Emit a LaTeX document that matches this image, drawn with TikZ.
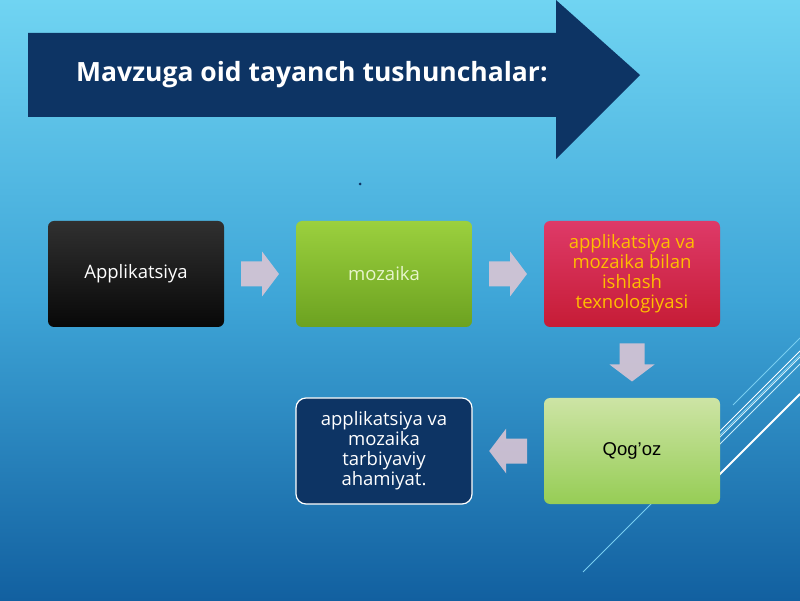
\documentclass[tikz,border=0pt]{standalone}
\usepackage{fontspec}
\setmainfont{Open Sans}
\newfontfamily\arialfont{Liberation Sans}
\usetikzlibrary{calc}

\definecolor{bgtop}{RGB}{112,212,242}
\definecolor{bgmid}{RGB}{62,165,215}
\definecolor{bgbottom}{RGB}{18,96,160}
\definecolor{navy}{RGB}{13,52,100}
\definecolor{blacktop}{RGB}{48,48,48}
\definecolor{blackbottom}{RGB}{8,8,8}
\definecolor{greentop}{RGB}{155,208,62}
\definecolor{greenbottom}{RGB}{108,162,32}
\definecolor{mozaikatext}{RGB}{232,245,205}
\definecolor{redtop}{RGB}{222,58,104}
\definecolor{redbottom}{RGB}{198,28,54}
\definecolor{orangetext}{RGB}{255,190,0}
\definecolor{papertop}{RGB}{205,228,165}
\definecolor{paperbottom}{RGB}{150,205,85}
\definecolor{arrowgrey}{RGB}{222,198,212}
\definecolor{lineblue}{RGB}{120,205,240}

\begin{document}
\begin{tikzpicture}[x=1pt, y=1pt,
    box/.style={rounded corners=6pt, minimum width=176pt, minimum height=106pt, inner sep=0pt, align=center, font=\fontsize{18.5}{20}\selectfont},
    pics/flowarrow/.style={code={
        \fill[arrowgrey, opacity=0.88] (-19,-12.5) -- (2,-12.5) -- (2,-22.5) -- (19,0) -- (2,22.5) -- (2,12.5) -- (-19,12.5) -- cycle;
    }}]

    \useasboundingbox (0,0) rectangle (800,600);
    \shade[shading angle=-35, top color=bgtop, bottom color=bgbottom, middle color=bgmid] (0,0) rectangle (800,600);

    % decorative lines
    \draw[lineblue, line width=1pt] (733,195) -- (800,262);
    \draw[lineblue, line width=1pt] (583,28) -- (800,245);
    \draw[white, line width=1pt] (700,149) -- (800,249);
    \draw[white!70!lineblue, line width=0.8pt] (700,143) -- (800,243);
    \draw[white!60!lineblue, line width=0.8pt] (700,136) -- (800,236);
    \draw[white, line width=2pt] (700,106) -- (800,206);

    % banner
    \fill[navy] (28,567) -- (556,567) -- (556,600) -- (640,525) -- (556,441) -- (556,483) -- (28,483) -- cycle;
    \node[anchor=west, inner sep=0pt, text=white, font=\bfseries\fontsize{26.5}{30}\selectfont] (title) at (76,525) {Mavzuga oid tayanch tushunchalar:};
    \node[circle, fill=navy, inner sep=0pt, minimum size=3pt] (dot) at (360,416) {};

    \node[box, top color=blacktop, bottom color=blackbottom, text=white] (1) at (136,326) {Applikatsiya};
    \node[box, top color=greentop, bottom color=greenbottom, text=mozaikatext] (2) at (384,326) {mozaika};
    \node[box, top color=redtop, bottom color=redbottom, text=orangetext] (3) at (632,326) {applikatsiya va\\mozaika bilan\\ishlash\\texnologiyasi};
    \node[box, top color=papertop, bottom color=paperbottom, font=\arialfont\fontsize{18.5}{20}\selectfont] (4) at (632,149) {Qog’oz};
    \node[box, fill=navy, draw=white, line width=1.2pt, rounded corners=10pt, text=white] (5) at (384,149) {applikatsiya va\\mozaika\\tarbiyaviy\\ahamiyat.};

    \pic at ($(1.east)!0.5!(2.west)$) {flowarrow};
    \pic at ($(2.east)!0.5!(3.west)$) {flowarrow};
    \pic[rotate=-90] at ($(3.south)!0.5!(4.north)$) {flowarrow};
    \pic[rotate=180] at ($(4.west)!0.5!(5.east)$) {flowarrow};

\end{tikzpicture}
\end{document}
